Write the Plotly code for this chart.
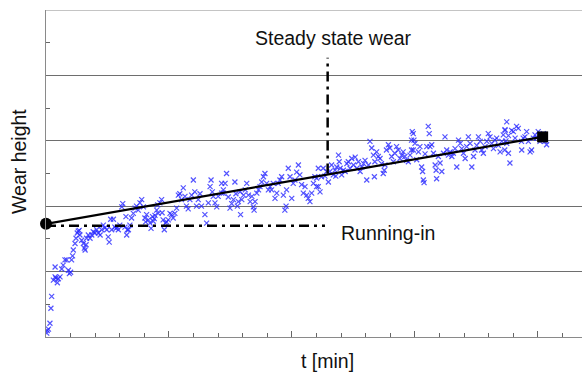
import plotly.graph_objects as go

# Observed wear (time in minor-tick units, wear height in grid units)
t_obs = [0.03, 0.05, 0.1, 0.16, 0.2, 0.23, 0.3, 0.37, 0.4, 0.46, 0.5, 0.37, 0.57, 0.64, 0.7, 0.77, 0.84, 0.91, 0.95, 1.0,
         1.04, 1.08, 1.11, 1.18, 1.22, 1.27, 1.31, 1.35, 1.38, 1.45, 1.52, 1.56, 1.59, 1.63, 1.65, 1.72, 1.79, 1.86, 1.92, 1.99,
         2.06, 2.13, 2.2, 2.26, 2.33, 2.4, 2.47, 2.53, 2.57, 2.63, 2.67, 2.74, 2.8, 2.85, 2.9, 2.94, 3.0, 3.08, 3.12, 3.21,
         3.25, 3.31, 3.28, 3.35, 3.41, 3.48, 3.55, 3.62, 3.68, 3.75, 3.82, 3.89, 3.96, 4.02, 4.05, 4.09, 4.16, 4.23, 4.27, 4.33,
         4.36, 4.4, 4.43, 4.5, 4.54, 4.56, 4.63, 4.7, 4.72, 4.76, 4.81, 4.86, 4.9, 4.97, 5.04, 5.1, 5.17, 5.24, 5.31, 5.38,
         5.44, 5.51, 5.58, 5.65, 5.71, 5.78, 5.85, 5.92, 5.99, 6.05, 6.12, 6.19, 6.26, 6.32, 6.46, 6.53, 6.6, 6.67, 6.71, 6.76,
         6.8, 6.87, 6.94, 7.0, 7.14, 7.21, 7.14, 7.21, 7.28, 7.34, 7.41, 7.48, 7.55, 7.62, 7.68, 7.72, 7.78, 7.82, 7.89, 7.91,
         7.96, 8.03, 8.1, 8.16, 8.23, 8.3, 8.37, 8.43, 8.46, 8.5, 8.57, 8.64, 8.7, 8.77, 8.84, 8.9, 8.97, 9.04, 9.11, 9.17,
         9.24, 9.31, 9.38, 9.44, 9.51, 9.58, 9.65, 9.71, 9.76, 9.78, 9.85, 9.92, 9.99, 10.05, 10.12, 10.19, 10.26, 10.32, 10.39, 10.46,
         10.53, 10.6, 10.66, 10.73, 10.8, 10.87, 10.93, 11.0, 11.07, 11.0, 11.07, 11.14, 11.2, 11.27, 11.34, 11.41, 11.48, 11.54, 11.61,
         11.68, 11.75, 11.78, 11.82, 11.89, 11.92, 11.96, 12.02, 12.09, 12.16, 12.23, 12.29, 12.36, 12.43, 12.5, 12.57, 12.64, 12.7, 12.77, 12.84,
         12.91, 12.97, 13.04, 13.11, 13.17, 13.24, 13.31, 13.35, 13.37, 13.44, 13.51, 13.58, 13.64, 13.71, 13.75, 13.78, 13.84, 13.92, 13.98, 14.05,
         14.12, 14.18, 14.25, 14.32, 14.39, 14.46, 14.52, 14.59, 14.66, 14.73, 14.8, 14.86, 14.89, 14.93, 14.86, 14.93, 14.96, 15.0, 15.07, 15.14,
         15.2, 15.27, 15.31, 15.34, 15.37, 15.41, 15.48, 15.54, 15.58, 15.61, 15.68, 15.75, 15.82, 15.86, 15.88, 15.95, 16.02, 16.09, 16.16, 16.22,
         16.29, 16.36, 16.43, 16.5, 16.56, 16.63, 16.7, 16.77, 16.84, 16.9, 16.97, 17.04, 17.1, 17.17, 17.24, 17.31, 17.38, 17.44, 17.51, 17.58,
         17.65, 17.71, 17.78, 17.85, 17.92, 17.98, 18.05, 18.12, 18.19, 18.25, 18.32, 18.39, 18.46, 18.53, 18.59, 18.66, 18.73, 18.8, 18.73, 18.66,
         18.8, 18.93, 19.0, 19.13, 19.2, 19.07, 19.33, 19.34, 19.4, 19.47, 19.54, 19.61, 19.68, 19.74, 19.81, 19.88, 19.95, 20.01, 20.08, 20.15,
         20.22, 20.28, 20.35, 18.86, 18.65, 18.7]
wear_obs = [0.06, 0.1, 0.12, 0.21, 0.44, 0.62, 0.87, 0.92, 0.9, 0.83, 0.89, 1.07, 0.92, 1.04, 1.1, 1.18, 1.18, 1.02, 0.97, 0.99,
            1.18, 1.24, 1.33, 1.43, 1.51, 1.59, 1.62, 1.63, 1.56, 1.48, 1.43, 1.36, 1.33, 1.41, 1.51, 1.56, 1.51, 1.56, 1.61, 1.59,
            1.64, 1.59, 1.56, 1.64, 1.71, 1.67, 1.64, 1.53, 1.45, 1.8, 1.64, 1.8, 1.68, 1.66, 1.68, 1.64, 1.71, 1.99, 2.04, 1.68,
            1.84, 1.64, 1.56, 1.64, 1.71, 1.82, 1.89, 1.97, 2.0, 1.94, 2.05, 2.1, 1.99, 1.82, 1.76, 1.87, 1.79, 1.74, 1.66, 1.84,
            1.77, 1.81, 1.86, 1.94, 2.02, 1.89, 2.05, 2.1, 1.9, 1.79, 1.64, 1.74, 1.76, 1.79, 1.89, 1.87, 1.82, 1.89, 1.97, 2.17,
            2.19, 2.1, 2.28, 2.15, 2.0, 1.96, 2.1, 2.17, 2.4, 2.22, 2.0, 2.1, 2.19, 2.0, 1.87, 1.74, 2.05, 2.3, 2.4, 2.22,
            2.15, 2.05, 1.99, 2.15, 2.35, 2.2, 2.2, 2.25, 2.35, 2.5, 2.14, 1.97, 2.04, 2.1, 2.37, 2.19, 2.0, 2.07, 2.22, 1.87,
            2.1, 2.17, 2.25, 2.35, 2.17, 2.07, 2.15, 1.99, 1.94, 2.07, 2.2, 2.25, 2.3, 2.37, 2.45, 2.5, 2.35, 2.25, 2.3, 2.25,
            2.35, 2.12, 2.2, 2.35, 2.4, 2.45, 2.17, 1.94, 2.0, 2.25, 2.58, 2.45, 2.12, 2.35, 2.4, 2.52, 2.63, 2.48, 2.33, 2.2,
            2.3, 2.17, 2.12, 2.07, 2.2, 2.35, 2.45, 2.3, 2.58, 2.43, 2.3, 2.22, 2.45, 2.58, 2.46, 2.53, 2.37, 2.53, 2.63,
            2.48, 2.55, 2.46, 2.6, 2.78, 2.68, 2.58, 2.48, 2.55, 2.53, 2.65, 2.68, 2.58, 2.73, 2.63, 2.75, 2.58, 2.68, 2.53, 2.6,
            2.65, 2.7, 2.4, 2.63, 2.99, 2.89, 2.78, 2.45, 2.68, 2.83, 2.76, 2.73, 2.65, 2.5, 2.55, 2.63, 2.86, 2.94, 2.89, 2.76,
            2.68, 2.81, 2.91, 2.86, 2.73, 2.78, 2.83, 2.76, 2.7, 2.68, 2.78, 3.01, 3.14, 2.86, 2.86, 3.11, 3.01, 2.96, 2.71, 2.83,
            2.91, 2.6, 2.53, 2.4, 2.36, 2.8, 2.91, 3.22, 3.11, 2.91, 2.94, 2.81, 2.63, 2.55, 2.42, 2.76, 2.66, 2.53, 2.81, 3.06,
            2.86, 2.78, 2.83, 2.76, 2.81, 2.88, 2.6, 3.01, 2.96, 2.88, 2.81, 2.73, 2.91, 3.06, 2.96, 2.6, 2.76, 2.86, 2.93, 3.06,
            2.99, 2.86, 2.81, 2.91, 2.99, 3.11, 3.06, 2.96, 2.88, 3.01, 3.04, 2.93, 2.83, 2.99, 3.09, 3.17, 2.96, 2.81, 3.29, 3.16,
            3.08, 3.16, 3.14, 3.22, 3.19, 3.04, 2.99, 2.86, 3.04, 3.06, 3.14, 2.99, 2.83, 2.86, 3.04, 3.09, 3.04, 3.14, 2.99, 3.06,
            3.11, 2.99, 2.94, 2.66, 2.86, 3.0]

# Trend (steady state wear line) endpoints
t_trend = [0.0, 20.19]
wear_trend = [1.73, 3.06]

# Running-in guide (horizontal) and steady-state guide (vertical)
t_run = [0.0, 11.34]
wear_run = [1.70, 1.70]
t_steady = [11.45, 11.45]
wear_steady = [2.5, 4.27]

x_range = [0, 21.79]
y_range = [0, 5]

font_family = "Liberation Sans, Arial, sans-serif"

fig = go.Figure()

fig.add_trace(go.Scatter(
    x=t_obs, y=wear_obs, mode="markers",
    marker=dict(symbol="x-thin", size=5, line=dict(width=1.2, color="rgba(40,40,255,0.8)"),
                color="rgba(40,40,255,0.8)"),
    showlegend=False, hoverinfo="skip"))

fig.add_trace(go.Scatter(
    x=t_run, y=wear_run, mode="lines",
    line=dict(color="black", width=2.5, dash="10px,5px,3px,5px"),
    showlegend=False))

fig.add_trace(go.Scatter(
    x=t_steady, y=wear_steady, mode="lines",
    line=dict(color="black", width=2.5, dash="10px,5px,3px,5px"),
    showlegend=False))

fig.add_trace(go.Scatter(
    x=t_trend, y=wear_trend, mode="lines",
    line=dict(color="black", width=2.2),
    showlegend=False))

fig.add_trace(go.Scatter(
    x=[t_trend[0]], y=[wear_trend[0]], mode="markers",
    marker=dict(symbol="circle", size=12, color="black"),
    showlegend=False, cliponaxis=False))

fig.add_trace(go.Scatter(
    x=[t_trend[1]], y=[wear_trend[1]], mode="markers",
    marker=dict(symbol="square", size=11, color="black"),
    showlegend=False, cliponaxis=False))

# top grid line
fig.add_shape(type="line", xref="paper", yref="y", x0=0, x1=1, y0=y_range[1], y1=y_range[1],
              line=dict(color="#8a8a8a", width=1), layer="below")

fig.update_xaxes(
    range=x_range, showgrid=False, zeroline=False, showticklabels=False,
    showline=True, linecolor="#8a8a8a", linewidth=1,
    ticks="inside", tick0=0, dtick=5, ticklen=6, tickcolor="#666",
    minor=dict(ticks="inside", dtick=1, ticklen=4, tickcolor="#666", showgrid=False))

fig.update_yaxes(
    range=y_range, showgrid=True, gridcolor="#6e6e6e", gridwidth=1, zeroline=False,
    showticklabels=False, showline=True, linecolor="#8a8a8a", linewidth=1,
    ticks="", tick0=0, dtick=1,
    minor=dict(ticks="inside", dtick=0.5, ticklen=4, tickcolor="#666", showgrid=False))

fig.add_annotation(text="Steady state wear", xref="paper", yref="paper",
                   x=(333 - 46) / 536, y=(337 - 38) / 327, showarrow=False,
                   font=dict(family=font_family, size=19.5, color="#111"), xanchor="center", yanchor="middle")
fig.add_annotation(text="Running-in", xref="paper", yref="paper",
                   x=(339 - 46) / 536, y=(337 - 233) / 327, showarrow=False,
                   font=dict(family=font_family, size=19.5, color="#111"), xanchor="left", yanchor="middle")
fig.add_annotation(text="Wear height", xref="paper", yref="paper",
                   x=(19 - 46) / 536, y=(337 - 162) / 327, showarrow=False, textangle=-90,
                   font=dict(family=font_family, size=19.5, color="#111"), xanchor="center", yanchor="middle")
fig.add_annotation(text="t [min]", xref="paper", yref="paper",
                   x=(327 - 46) / 536, y=(337 - 361) / 327, showarrow=False,
                   font=dict(family=font_family, size=19.5, color="#111"), xanchor="center", yanchor="middle")

fig.update_layout(
    width=582, height=372,
    margin=dict(l=46, r=0, t=10, b=35),
    plot_bgcolor="white", paper_bgcolor="white",
    font=dict(family=font_family),
)

fig.write_html("out.html", config={"displayModeBar": False},
               post_script="document.body.style.margin='0';document.body.style.overflow='hidden';")
